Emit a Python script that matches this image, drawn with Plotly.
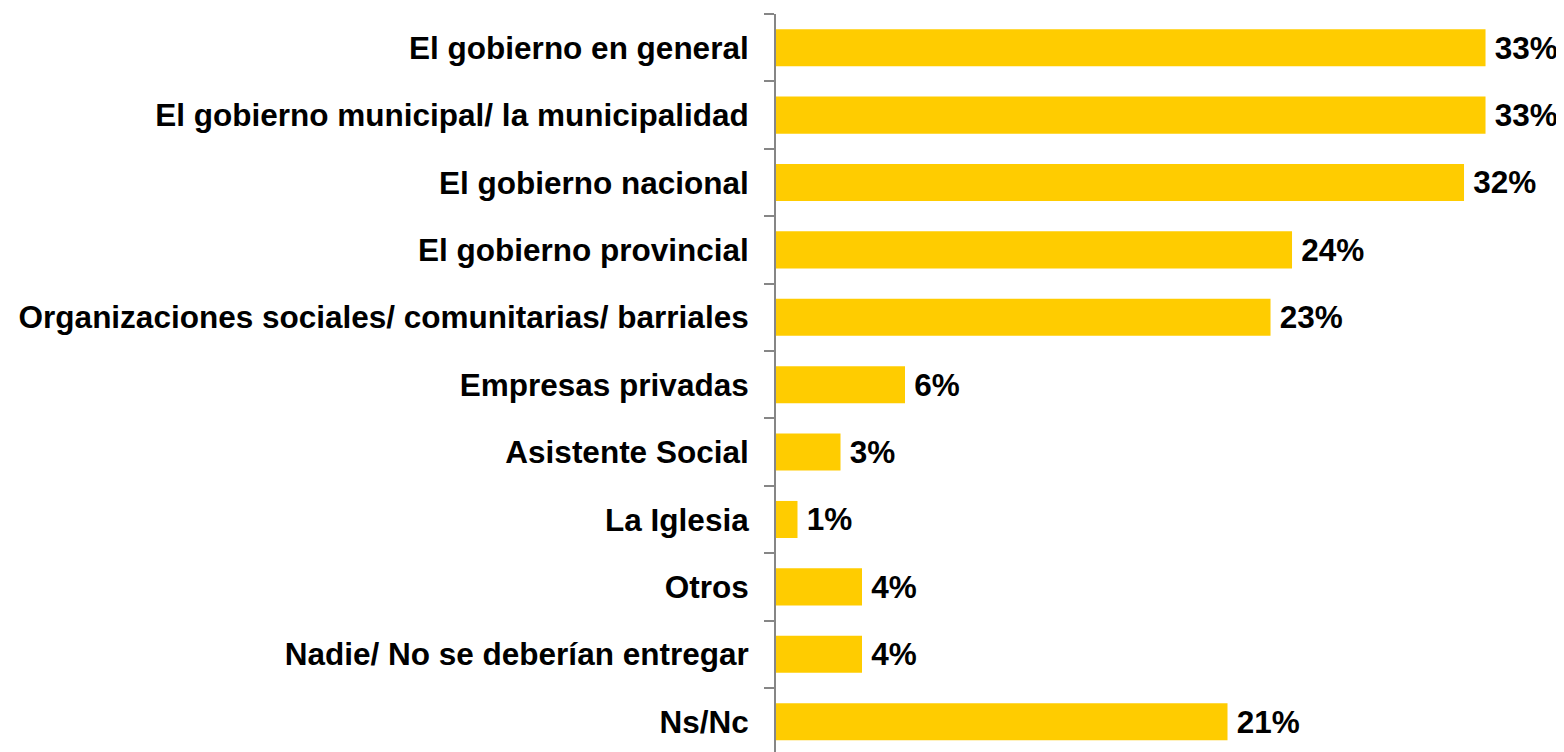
import plotly.graph_objects as go

categories = [
    "El gobierno en general",
    "El gobierno municipal/ la municipalidad",
    "El gobierno nacional",
    "El gobierno provincial",
    "Organizaciones sociales/ comunitarias/ barriales",
    "Empresas privadas",
    "Asistente Social",
    "La Iglesia",
    "Otros",
    "Nadie/ No se deberían entregar",
    "Ns/Nc",
]
values = [33, 33, 32, 24, 23, 6, 3, 1, 4, 4, 21]

FONT = "Liberation Sans, Arial, sans-serif"

fig = go.Figure(
    go.Bar(
        x=values,
        y=categories,
        orientation="h",
        marker=dict(color="#FFCC00", line=dict(width=0)),
        texttemplate="\u2009%{x}%",
        textposition="outside",
        textfont=dict(family=FONT, size=31.5, color="#000000", weight="bold"),
        cliponaxis=False,
        width=0.55,
    )
)

# page body has an 8px default margin, so the figure is sized/offset to compensate
fig.update_layout(
    template="none",
    width=1556,
    height=744,
    margin=dict(l=768, r=0, t=6, b=0, autoexpand=False),
    paper_bgcolor="white",
    plot_bgcolor="white",
    showlegend=False,
    font=dict(family=FONT, color="#000000"),
)

fig.update_xaxes(
    range=[0, 36.65],
    automargin=False,
    showgrid=False,
    zeroline=False,
    showline=False,
    showticklabels=False,
    ticks="",
)

fig.update_yaxes(
    type="category",
    categoryorder="array",
    categoryarray=categories,
    range=[10.45, -0.5],
    automargin=False,
    showgrid=False,
    zeroline=False,
    showline=True,
    linecolor="#868686",
    linewidth=2,
    ticks="outside",
    tickson="boundaries",
    ticklen=10,
    tickwidth=2,
    tickcolor="#868686",
    ticklabelstandoff=19,
    tickfont=dict(family=FONT, size=31.5, color="#000000", weight="bold"),
)

fig.write_html("out.html")
